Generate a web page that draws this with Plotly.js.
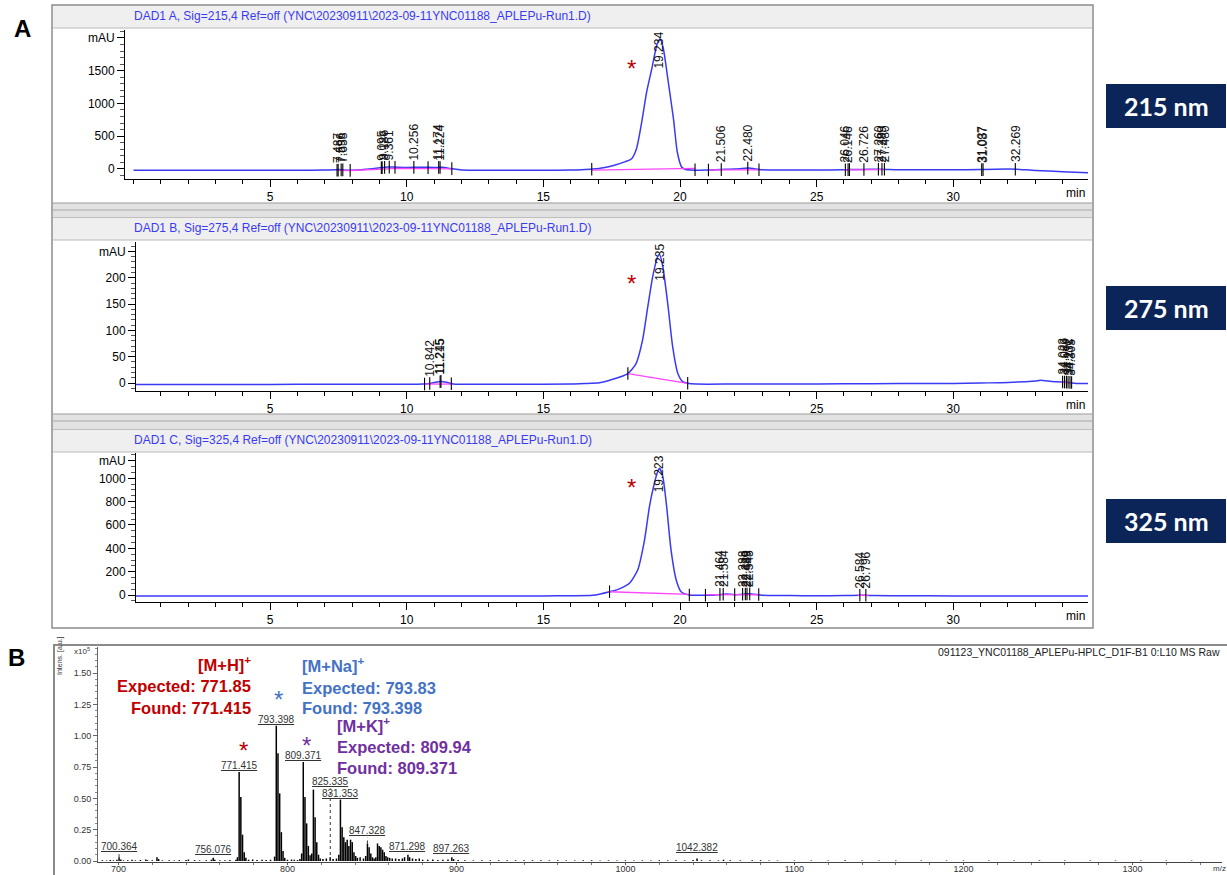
<!DOCTYPE html>
<html>
<head>
<meta charset="utf-8">
<script src="https://cdn.plot.ly/plotly-3.0.1.min.js"></script>
<style>html,body{margin:0;padding:0;background:#fff}</style>
</head>
<body>
<div id="chart" style="width:1227px;height:875px"></div>
<script>
// ---------- DAD1 A, 215 nm ----------
const t215 = [0,1,2,3,4,5,6,7,7.4,7.5,7.6,7.7,8.0,8.5,9.0,9.3,9.6,10.0,10.5,11.0,11.3,11.6,12,13,14,15,16,16.4,16.8,17.2,17.6,18.0,18.23,18.41,18.6,18.78,18.97,19.15,19.27,19.39,19.57,19.76,19.9,20.06,20.18,20.4,21,21.5,22,22.5,23,24,25,26,26.2,26.7,27.3,28,29,30,31,31.1,32,32.3,33,34,35];
const a215 = [-22,-22,-22,-22,-22,-22,-22,-20,-15,-12,-14,-18,-22,-8,15,28,25,20,24,20,22,5,-18,-22,-22,-22,-20,-15,-5,15,55,110,155,310,716,1175,1533,1890,1990,1840,1328,768,257,28,-7,-18,-20,-10,-4,12,-16,-20,-18,-15,-12,-10,-6,-14,-15,-13,-12,-10,-4,-6,-25,-45,-60];
const base215T = [7.45,7.93,9.1,9.57,11.65,null,16.77,20.55,null,21.04,22.89,null,26.0,27.5];
const base215A = [-24,-26,-5,5,-2,null,-20,5,null,-18,-15,null,-16,-12];
const ev215T = [7.45,7.49,7.6,7.66,7.93,9.07,9.1,9.19,9.36,9.57,10.26,10.78,11.17,11.22,11.65,16.77,20.55,21.04,21.51,22.48,22.89,26.05,26.15,26.2,26.73,27.26,27.39,27.48,31.04,31.09,32.27];
const ev215A = [-22,-20,-16,-16,-24,16,18,22,26,22,22,18,21,20,3,-8,-14,-18,-12,10,-14,-14,-13,-13,-10,-8,-8,-8,-12,-12,-6];
const pk215 = ['7.487','7.596','7.658','9.095','9.186','9.361','10.256','11.174','11.224','21.506','22.480','26.046','26.146','26.726','27.260','27.389','27.480','31.037','31.087','32.269'];
const pk215H = [-16,-16,-17,18,22,26,22,21,20,-12,10,-14,-13,-10,-8,-8,-8,-12,-12,-6];

// ---------- DAD1 B, 275 nm ----------
const t275 = [0,2,4,6,8,10,10.6,10.85,11.05,11.25,11.45,11.7,12,14,16,16.5,17.05,17.54,18.09,18.39,18.63,18.82,19.0,19.18,19.25,19.37,19.55,19.73,19.92,20.1,20.28,20.6,22,24,26,28,30,31,32,33,33.2,33.6,34,34.2,34.5,35];
const a275 = [-3,-3,-3,-2.5,-2.5,-2.5,-2,-1,1.5,3,1.5,-2,-2.5,-2.5,-2,-1,0.5,7,18,37,82,145,202,240,244,221,151,69,18,2.5,-0.6,-2,-2,-2,-1.5,-1,-1,0,1,4,5,3,2,1,-1,-1];
const base275T = [10.65,11.63,null,18.09,20.28,null,33.95,34.35];
const base275A = [-2,-2,null,18,-0.6,null,1,1];
const ev275T = [10.65,10.84,11.22,11.25,11.63,18.09,20.28,34.0,34.07,34.14,34.2,34.27,34.33];
const ev275A = [-2,-1,2.5,3,-1.5,18,-0.6,2,1.8,1.6,1.4,1.2,1];
const pk275 = ['10.842','11.215','11.245','34.023','34.089','34.172','34.231','34.305'];
const pk275H = [-1,2.5,3,2,1.8,1.6,1.4,1.2];

// ---------- DAD1 C, 325 nm ----------
const t325 = [0,2,4,6,8,10,12,14,15,16,16.8,17.42,17.8,18.15,18.45,18.7,18.88,19.03,19.18,19.25,19.37,19.51,19.67,19.86,20.04,20.34,20.8,21.2,21.5,21.7,22,22.3,22.5,22.8,23,24,25,26,26.6,26.8,27,28,30,32,34,35];
const a325 = [-8,-8,-8,-8,-8,-8,-8,-8,-8,-6,-3,28,55,100,214,471,757,928,1057,1086,1014,757,386,129,28,0,-3,-2,5,8,3,6,10,4,-3,-5,-6,-5,-2,-2,-5,-6,-8,-8,-8,-8];
const base325T = [17.42,20.34,null,20.93,22.88,null,26.5,26.9];
const base325A = [28,5,null,3,2,null,-3,-3];
const ev325T = [17.42,20.34,20.93,21.46,21.58,22.0,22.29,22.39,22.45,22.55,22.88,26.58,26.8];
const ev325A = [28,0,-2,5,7,3,6,8,9,10,4,-2,-2];
const pk325 = ['21.464','21.584','22.288','22.389','22.449','22.545','26.584','26.796'];
const pk325H = [5,7,6,8,9,10,-2,-2];

// main peak retention times, one per wavelength
const apexRT = ['19.234','19.235','19.223'];
const waveLabels = ['215 nm','275 nm','325 nm'];
const headers = [
  'DAD1 A, Sig=215,4 Ref=off (YNC\\20230911\\2023-09-11YNC01188_APLEPu-Run1.D)',
  'DAD1 B, Sig=275,4 Ref=off (YNC\\20230911\\2023-09-11YNC01188_APLEPu-Run1.D)',
  'DAD1 C, Sig=325,4 Ref=off (YNC\\20230911\\2023-09-11YNC01188_APLEPu-Run1.D)'
];

// ---------- MALDI mass spectrum (intensity x10^5) ----------
const msMz = [690.5,693,695.2,697,699.1,700.36,701.4,703,705.5,708,710,713,716.2,717.2,720,722.8,723.8,726,730,733,736,740,741.4,745,748,752,755,756.08,757,760,763,766,769.5,770.4,771.415,772.42,773.42,774.42,775.4,777,779.4,782,785,787.4,790,792.4,793.398,794.4,795.4,796.4,797.4,798.4,800,802.4,804,806,807.4,808.4,809.371,810.37,811.37,812.37,813.4,814.4,815.35,816.35,817.35,818.4,819.4,821,823,825.335,827,829,830.4,831.353,832.35,833.35,834.35,835.35,836.35,837.35,838.35,839.35,840.4,841.4,843,845,846.3,847.328,848.33,849.33,850.3,851.3,852.3,853.3,854.3,855.3,856.3,857.3,858.3,859.3,860.5,862,864,866,868,869.3,871.298,872.3,874,876,878,880,883,886,889,892,895,897.263,898.3,901,905,910,915,920,925,930,935,940,945,950,955,960,965,970,975,980,985,990,995,1000,1005,1010,1015,1020,1025,1030,1035,1040,1042.382,1045,1050,1055,1058,1062,1068,1075,1080,1085,1090,1100,1110,1120,1130,1140,1150,1160,1175,1190,1200,1215,1230,1245,1260,1275,1290,1305,1320,1335,1350];
const msInt = [0.006,0.004,0.008,0.005,0.01,0.03,0.012,0.005,0.006,0.01,0.005,0.008,0.012,0.006,0.006,0.03,0.015,0.005,0.006,0.004,0.007,0.008,0.012,0.007,0.005,0.006,0.01,0.025,0.01,0.006,0.005,0.008,0.01,0.03,0.71,0.51,0.21,0.07,0.025,0.01,0.012,0.008,0.01,0.008,0.01,0.035,1.08,0.86,0.54,0.23,0.08,0.025,0.01,0.012,0.01,0.008,0.015,0.06,0.79,0.51,0.30,0.12,0.045,0.06,0.57,0.35,0.15,0.05,0.02,0.015,0.02,0.03,0.015,0.02,0.05,0.49,0.27,0.19,0.15,0.17,0.12,0.17,0.15,0.07,0.04,0.025,0.03,0.02,0.04,0.14,0.11,0.06,0.03,0.02,0.03,0.14,0.12,0.11,0.09,0.07,0.04,0.03,0.025,0.02,0.02,0.015,0.02,0.03,0.05,0.03,0.02,0.015,0.02,0.01,0.01,0.012,0.008,0.01,0.012,0.03,0.015,0.008,0.006,0.005,0.006,0.005,0.006,0.005,0.006,0.005,0.006,0.005,0.005,0.006,0.005,0.004,0.005,0.006,0.004,0.005,0.004,0.005,0.004,0.005,0.004,0.005,0.005,0.006,0.005,0.008,0.02,0.006,0.006,0.005,0.01,0.006,0.005,0.005,0.006,0.004,0.004,0.004,0.004,0.004,0.005,0.004,0.004,0.004,0.004,0.004,0.004,0.004,0.004,0.005,0.004,0.004,0.004,0.004,0.004,0.004];
const msLabels = ['700.364','756.076','771.415','793.398','809.371','825.335','831.353','847.328','871.298','897.263','1042.382'];
const msLabelInt = [0.03,0.025,0.71,1.08,0.79,0.03,0.49,0.14,0.05,0.03,0.02];
const msTitle = '091123_YNC01188_APLEPu-HPLC_D1F-B1 0:L10 MS Raw';

// ---------- page geometry helpers (pixel -> paper) ----------
const W = 1227, H = 875;
const X = px => px / W;
const Y = py => 1 - py / H;
const FONT = 'Arial, "Liberation Sans", sans-serif';
const BLUE = '#3a3af5', PINK = '#ff44ff';

// panel rectangles in pixels: [left, top, right, bottom] of each plot area
const hplcBox = [
  {x0: 125, x1: 1088, y0: 30,  y1: 179, range: [-156, 2122], xr: [-0.31, 34.93], ticks: [0,500,1000,1500,2000], minor: 100, header: 16},
  {x0: 136, x1: 1088, y0: 242, y1: 391, range: [-15.2, 268], xr: [0.09, 34.93], ticks: [0,50,100,150,200,250], minor: 10, header: 228},
  {x0: 136, x1: 1088, y0: 453, y1: 602, range: [-60, 1217], xr: [0.09, 34.93], ticks: [0,200,400,600,800,1000,1150], minor: 50, header: 440}
];
const series = [
  {t: t215, a: a215, bt: base215T, ba: base215A, et: ev215T, ea: ev215A, pk: pk215, ph: pk215H},
  {t: t275, a: a275, bt: base275T, ba: base275A, et: ev275T, ea: ev275A, pk: pk275, ph: pk275H},
  {t: t325, a: a325, bt: base325T, ba: base325A, et: ev325T, ea: ev325A, pk: pk325, ph: pk325H}
];

const traces = [];
const annotations = [];
const shapes = [];
const layout = {
  width: W, height: H, margin: {l: 0, r: 0, t: 0, b: 0},
  paper_bgcolor: '#ffffff', plot_bgcolor: 'rgba(0,0,0,0)',
  showlegend: false, font: {family: FONT, color: '#000'}
};

// frame of the chromatogram block
function rect(x0, y0, x1, y1, fill, line, lw) {
  shapes.push({type: 'rect', xref: 'paper', yref: 'paper', layer: 'below',
    x0: X(x0), x1: X(x1), y0: Y(y1), y1: Y(y0),
    fillcolor: fill || 'rgba(0,0,0,0)', line: {color: line || 'rgba(0,0,0,0)', width: lw || 0}});
}
function hline(x0, x1, y, color, w) {
  shapes.push({type: 'line', xref: 'paper', yref: 'paper', layer: 'below',
    x0: X(x0), x1: X(x1), y0: Y(y), y1: Y(y), line: {color: color, width: w || 1}});
}
rect(53, 5, 1092, 28, '#efefef');
hline(53, 1092, 28, '#b8b8b8');
rect(53, 203, 1092, 218, '#e2e2e2');
hline(53, 1092, 203, '#9a9a9a'); hline(53, 1092, 210, '#a8a8a8'); hline(53, 1092, 218, '#9a9a9a');
rect(53, 218, 1092, 240, '#efefef');
hline(53, 1092, 240, '#b8b8b8');
rect(53, 414, 1092, 430, '#e2e2e2');
hline(53, 1092, 414, '#9a9a9a'); hline(53, 1092, 421, '#a8a8a8'); hline(53, 1092, 430, '#9a9a9a');
rect(53, 430, 1092, 452, '#efefef');
hline(53, 1092, 452, '#b8b8b8');
rect(52, 5, 1093, 628, null, '#8c8c8c', 1.5);
// frame of the mass spectrum block
rect(54, 645, 1232, 882, null, '#8a8a8a', 2);

// chromatogram panels
hplcBox.forEach((b, i) => {
  const n = i + 1;
  const xa = 'xaxis' + (n === 1 ? '' : n), ya = 'yaxis' + (n === 1 ? '' : n);
  const xr = 'x' + (n === 1 ? '' : n), yr = 'y' + (n === 1 ? '' : n);
  const s = series[i];
  layout[xa] = {
    domain: [X(b.x0), X(b.x1)], range: b.xr, anchor: yr,
    showline: true, linecolor: '#000', linewidth: 1, mirror: false,
    tickmode: 'array', tickvals: [5,10,15,20,25,30], ticks: 'outside', ticklen: 7, tickcolor: '#000',
    tickfont: {family: FONT, size: 12, color: '#000'},
    minor: {tickmode: 'linear', tick0: 0, dtick: 1, ticks: 'outside', ticklen: 4, tickcolor: '#000'},
    showgrid: false, zeroline: false, fixedrange: true
  };
  layout[ya] = {
    domain: [Y(b.y1), Y(b.y0)], range: b.range, anchor: xr,
    showline: true, linecolor: '#000', linewidth: 1,
    tickmode: 'array', tickvals: b.ticks,
    ticktext: b.ticks.map((v, k) => k === b.ticks.length - 1 ? 'mAU' : String(v)),
    ticks: 'outside', ticklen: 7, tickcolor: '#000',
    tickfont: {family: FONT, size: 12, color: '#000'},
    minor: {tickmode: 'linear', tick0: 0, dtick: b.minor, ticks: 'outside', ticklen: 4, tickcolor: '#555'},
    showgrid: false, zeroline: false, fixedrange: true
  };
  // signal
  traces.push({x: s.t, y: s.a, xaxis: xr, yaxis: yr, type: 'scatter', mode: 'lines',
    line: {color: BLUE, width: 1.5, shape: 'spline', smoothing: 0.6}, hoverinfo: 'skip', cliponaxis: true});
  // integration baselines
  traces.push({x: s.bt, y: s.ba, xaxis: xr, yaxis: yr, type: 'scatter', mode: 'lines',
    line: {color: PINK, width: 1.3}, connectgaps: false, hoverinfo: 'skip'});
  // integration event ticks
  traces.push({x: s.et, y: s.ea, xaxis: xr, yaxis: yr, type: 'scatter', mode: 'markers',
    marker: {symbol: 'line-ns', size: 9, line: {color: '#000', width: 1.1}}, hoverinfo: 'skip'});
  // retention time labels of minor peaks
  s.pk.forEach((lab, k) => {
    annotations.push({xref: xr, yref: yr, x: parseFloat(lab), y: s.ph[k], text: lab,
      textangle: -90, showarrow: false, xanchor: 'center', yanchor: 'bottom', yshift: 6,
      borderpad: 0, font: {family: FONT, size: 12, color: '#111'}});
  });
  // main peak label, running down from the top of the panel
  annotations.push({xref: xr, yref: yr, x: parseFloat(apexRT[i]), y: b.range[1], text: apexRT[i],
    textangle: -90, showarrow: false, xanchor: 'center', yanchor: 'top', yshift: -1,
    borderpad: 0, font: {family: FONT, size: 12, color: '#111'}});
  // red asterisk marking the product peak
  annotations.push({xref: 'paper', yref: 'paper', x: X(631), y: Y([68, 284, 487][i]), text: '*',
    showarrow: false, xanchor: 'center', yanchor: 'middle', font: {family: FONT, size: 24, color: '#c00000'}});
  // header line
  annotations.push({xref: 'paper', yref: 'paper', x: X(132), y: Y(b.header), text: headers[i],
    showarrow: false, xanchor: 'left', yanchor: 'middle', font: {family: FONT, size: 12, color: BLUE}});
  // time unit
  annotations.push({xref: 'paper', yref: 'paper', x: X(1075), y: Y(b.y1 + 14), text: 'min',
    showarrow: false, xanchor: 'center', yanchor: 'middle', font: {family: FONT, size: 12, color: '#000'}});
  // wavelength tag
  const cy = [106, 308, 521][i];
  shapes.push({type: 'rect', xref: 'paper', yref: 'paper', layer: 'below',
    x0: X(1106), x1: X(1226), y0: Y(cy + 22), y1: Y(cy - 22), fillcolor: '#0b2559', line: {width: 0}});
  annotations.push({xref: 'paper', yref: 'paper', x: X(1166), y: Y(cy), text: '<b>' + waveLabels[i] + '</b>',
    showarrow: false, xanchor: 'center', yanchor: 'middle', font: {family: 'Lato, "Open Sans", sans-serif', size: 25, color: '#ffffff'}});
});

// mass spectrum axes
layout.xaxis4 = {
  domain: [X(98), X(1222)], range: [687.9, 1353], anchor: 'y4',
  showline: true, linecolor: '#444', linewidth: 1,
  tickmode: 'array', tickvals: [700,800,900,1000,1100,1200,1300], ticks: 'outside', ticklen: 2, tickcolor: '#555',
  ticklabelstandoff: -4,
  tickfont: {family: FONT, size: 9, color: '#333'},
  minor: {tickmode: 'linear', tick0: 700, dtick: 20, ticks: 'outside', ticklen: 2, tickcolor: '#777'},
  showgrid: false, zeroline: false, fixedrange: true
};
layout.yaxis4 = {
  domain: [Y(862), Y(647)], range: [-0.008, 1.708], anchor: 'x4',
  showline: true, linecolor: '#666', linewidth: 1,
  tickmode: 'array', tickvals: [0,0.25,0.5,0.75,1,1.25,1.5], tickformat: '.2f',
  ticks: 'outside', ticklen: 4, tickcolor: '#666',
  tickfont: {family: FONT, size: 9, color: '#333'},
  minor: {tickmode: 'linear', tick0: 0, dtick: 0.05, ticks: 'outside', ticklen: 2, tickcolor: '#888'},
  showgrid: false, zeroline: false, fixedrange: true
};

// spectrum drawn as sticks from the baseline
const sx = [], sy = [];
msMz.forEach((m, k) => { sx.push(m, m, null); sy.push(0, msInt[k], null); });
traces.push({x: sx, y: sy, xaxis: 'x4', yaxis: 'y4', type: 'scatter', mode: 'lines',
  line: {color: '#000', width: 1.5}, connectgaps: false, hoverinfo: 'skip'});

// peak annotations: lift above the peak (intensity units), dotted leader where raised
const msLift = [0.03, 0.015, 0.0, 0.0, 0.0, 0.55, 0.0, 0.05, 0.015, 0.02, 0.035];
const msLeader = {'700.364': true, '825.335': true, '847.328': true};
msLabels.forEach((lab, k) => {
  const m = parseFloat(lab);
  const top = msLabelInt[k] + msLift[k];
  annotations.push({xref: 'x4', yref: 'y4', x: m, y: top, text: '<u>' + lab + '</u>',
    showarrow: false, xanchor: 'center', yanchor: 'bottom', borderpad: 0,
    font: {family: FONT, size: 10, color: '#333'}});
  if (msLeader[lab]) {
    shapes.push({type: 'line', xref: 'x4', yref: 'y4', x0: m, x1: m,
      y0: lab === '825.335' ? 0 : msLabelInt[k], y1: top,
      line: {color: '#333', width: 1, dash: 'dot'}});
  }
});

// spectrum header texts
function pText(px, py, text, size, color, anchor, bold, angle) {
  annotations.push({xref: 'paper', yref: 'paper', x: X(px), y: Y(py), text: bold ? '<b>' + text + '</b>' : text,
    showarrow: false, xanchor: anchor || 'left', yanchor: 'middle', textangle: angle || 0,
    font: {family: FONT, size: size, color: color}});
}
pText(1222, 652, msTitle, 10.5, '#222', 'right');
pText(60, 656, 'Intens. [a.u.]', 7, '#333', 'center', false, -90);
pText(72, 651, 'x10<sup>5</sup>', 8, '#333', 'left');
pText(1219, 868, 'm/z', 8, '#333', 'center');

// ion assignments
const RED = '#c00000', NA = '#4472c4', K = '#7030a0';
const ION = 16.5;
pText(253, 664, '[M+H]<sup>+</sup>', ION, RED, 'right', true);
pText(253, 686, 'Expected: 771.85', ION, RED, 'right', true);
pText(253, 708, 'Found: 771.415', ION, RED, 'right', true);
pText(300, 665, '[M+Na]<sup>+</sup>', ION, NA, 'left', true);
pText(300, 688, 'Expected: 793.83', ION, NA, 'left', true);
pText(300, 708, 'Found: 793.398', ION, NA, 'left', true);
pText(335, 725, '[M+K]<sup>+</sup>', ION, K, 'left', true);
pText(335, 747, 'Expected: 809.94', ION, K, 'left', true);
pText(335, 768, 'Found: 809.371', ION, K, 'left', true);
pText(243, 750, '*', 24, RED, 'center');
pText(278, 699, '*', 24, NA, 'center');
pText(306, 745, '*', 24, K, 'center');

// panel letters
pText(22, 28, 'A', 24, '#000', 'center', true);
pText(16, 657, 'B', 24, '#000', 'center', true);

layout.shapes = shapes;
layout.annotations = annotations;
Plotly.newPlot('chart', traces, layout, {displayModeBar: false, staticPlot: true});
</script>
</body>
</html>
